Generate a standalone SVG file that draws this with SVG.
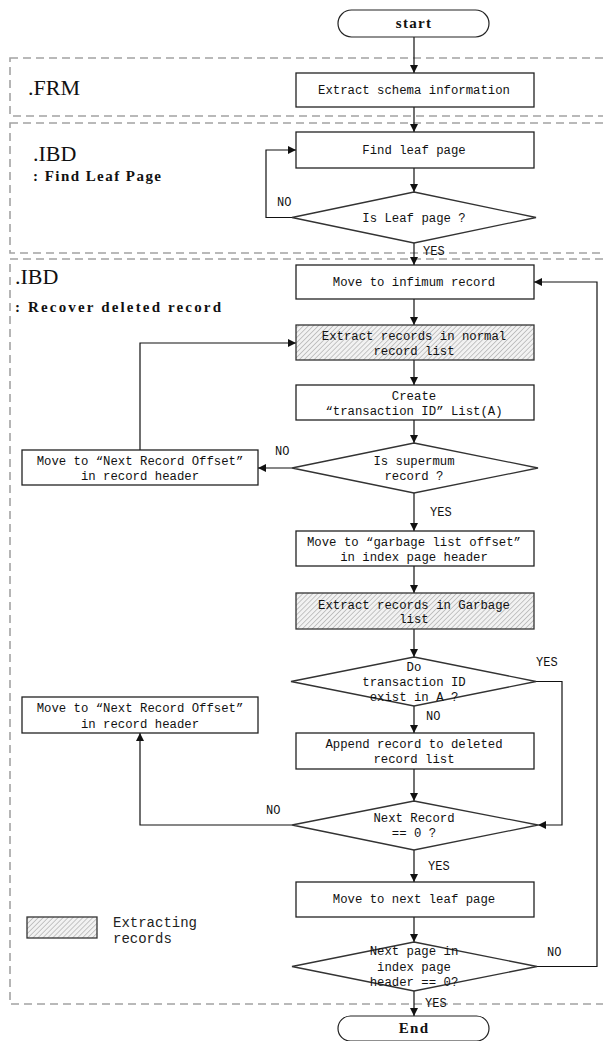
<svg xmlns="http://www.w3.org/2000/svg" width="603" height="1041" viewBox="0 0 603 1041">
<style>
.region{fill:none;stroke:#a3a3a3;stroke-width:1.6;stroke-dasharray:8 5}
.box{fill:#fff;stroke:#222;stroke-width:1.3}
.hbox{fill:url(#hatch);stroke:#333;stroke-width:1.3}
.dia{fill:#fff;stroke:#333;stroke-width:1.3}
.pill{fill:#fff;stroke:#222;stroke-width:1.2}
.t{font-family:"Liberation Mono",monospace;font-size:12.3px;fill:#111;text-anchor:middle}
.lb{font-family:"Liberation Mono",monospace;font-size:12px;fill:#111}
.term{font-family:"Liberation Serif",serif;font-size:15px;font-weight:bold;fill:#111;text-anchor:middle;letter-spacing:1.3px}
.title{font-family:"Liberation Serif",serif;font-size:22px;fill:#111}
.sub{font-family:"Liberation Serif",serif;font-size:15px;font-weight:bold;fill:#111}
.leg{font-family:"Liberation Mono",monospace;font-size:14px;fill:#222}
.conn path{fill:none;stroke:#111;stroke-width:1.2;marker-end:url(#arr)}
.conn path.plain{marker-end:none}
</style>
<defs>
<pattern id="hatch" patternUnits="userSpaceOnUse" width="3.5" height="3.5" patternTransform="rotate(45)">
<rect width="3.5" height="3.5" fill="#f2f2f2"/>
<line x1="0" y1="0" x2="0" y2="3.5" stroke="#8a8a8a" stroke-width="0.9"/>
</pattern>
<marker id="arr" markerUnits="userSpaceOnUse" markerWidth="9" markerHeight="8" refX="8" refY="4" orient="auto">
<path d="M0,0 L8,4 L0,8 z" fill="#111"/>
</marker>
</defs>

<g id="regions">
<rect class="region" x="10" y="58" width="620" height="58"/>
<rect class="region" x="10" y="123" width="620" height="130"/>
<rect class="region" x="10" y="259" width="620" height="745"/>
<text class="title" x="28" y="95">.FRM</text>
<text class="title" x="33" y="161">.IBD</text>
<text class="sub" x="33" y="181" textLength="128" lengthAdjust="spacing">: Find Leaf Page</text>
<text class="title" x="15" y="284">.IBD</text>
<text class="sub" x="15" y="312" textLength="206" lengthAdjust="spacing">: Recover deleted record</text>
</g>

<g class="conn" id="connectors">
<path d="M414,37 V73"/>
<path d="M414,107 V132"/>
<path d="M414,168 V192"/>
<path d="M292,217.5 H266 V150 H296"/>
<path d="M414,243 V265"/>
<path d="M414,299 V325"/>
<path d="M414,360 V385"/>
<path d="M414,420 V443"/>
<path d="M292,468 H258"/>
<path d="M140,450 V343 H296"/>
<path d="M414,493 V531"/>
<path d="M414,566 V593"/>
<path d="M414,629 V657"/>
<path d="M414,706 V733"/>
<path d="M536,681.5 H562 V825 H538"/>
<path d="M414,769 V801"/>
<path d="M292,825 H140 V733"/>
<path d="M414,850 V882"/>
<path d="M414,917 V942"/>
<path d="M537,966.5 H597 V282 H534"/>
<path d="M414,991 V1016"/>
<text class="lb" x="277" y="206">NO</text>
<text class="lb" x="423" y="255">YES</text>
<text class="lb" x="275" y="455">NO</text>
<text class="lb" x="430" y="516">YES</text>
<text class="lb" x="536" y="666">YES</text>
<text class="lb" x="426" y="720">NO</text>
<text class="lb" x="266" y="814">NO</text>
<text class="lb" x="428" y="870">YES</text>
<text class="lb" x="547" y="956">NO</text>
<text class="lb" x="425" y="1007">YES</text>
</g>

<g id="start">
<rect class="pill" x="338" y="10" width="151" height="27" rx="13.5"/>
<text class="term" x="414" y="28">start</text>
</g>
<g id="extract-schema">
<rect class="box" x="296" y="73" width="238" height="34"/>
<text class="t" x="414" y="94">Extract schema information</text>
</g>
<g id="find-leaf">
<rect class="box" x="296" y="132" width="238" height="36"/>
<text class="t" x="414" y="154">Find leaf page</text>
</g>
<g id="is-leaf">
<polygon class="dia" points="414,192 536,217.5 414,243 292,217.5"/>
<text class="t" x="414" y="222">Is Leaf page ?</text>
</g>
<g id="infimum">
<rect class="box" x="296" y="265" width="238" height="34"/>
<text class="t" x="414" y="286">Move to infimum record</text>
</g>
<g id="extract-normal">
<rect class="hbox" x="296" y="325" width="238" height="35"/>
<text class="t" x="414" y="340">Extract records in normal</text>
<text class="t" x="414" y="355">record list</text>
</g>
<g id="create-list">
<rect class="box" x="296" y="385" width="238" height="35"/>
<text class="t" x="414" y="400">Create</text>
<text class="t" x="414" y="415">“transaction ID” List(A)</text>
</g>
<g id="is-supermum">
<polygon class="dia" points="414,443 538,468 414,493 292,468"/>
<text class="t" x="414" y="465">Is supermum</text>
<text class="t" x="414" y="480">record ?</text>
</g>
<g id="next-offset-1">
<rect class="box" x="22" y="450" width="236" height="35"/>
<text class="t" x="140" y="465">Move to “Next Record Offset”</text>
<text class="t" x="140" y="480">in record header</text>
</g>
<g id="garbage-offset">
<rect class="box" x="296" y="531" width="238" height="35"/>
<text class="t" x="414" y="546">Move to “garbage list offset”</text>
<text class="t" x="414" y="561">in index page header</text>
</g>
<g id="extract-garbage">
<rect class="hbox" x="296" y="593" width="238" height="36"/>
<text class="t" x="414" y="609">Extract records in Garbage</text>
<text class="t" x="414" y="623">list</text>
</g>
<g id="exist-in-a">
<polygon class="dia" points="414,657 536,681.5 414,706 291,681.5"/>
<text class="t" x="414" y="671">Do</text>
<text class="t" x="414" y="686">transaction ID</text>
<text class="t" x="414" y="701">exist in A ?</text>
</g>
<g id="next-offset-2">
<rect class="box" x="22" y="697" width="236" height="36"/>
<text class="t" x="140" y="712">Move to “Next Record Offset”</text>
<text class="t" x="140" y="728">in record header</text>
</g>
<g id="append">
<rect class="box" x="296" y="733" width="238" height="36"/>
<text class="t" x="414" y="748">Append record to deleted</text>
<text class="t" x="414" y="763">record list</text>
</g>
<g id="next-record-zero">
<polygon class="dia" points="414,801 538,825 414,850 292,825"/>
<text class="t" x="414" y="822">Next Record</text>
<text class="t" x="414" y="837">== 0 ?</text>
</g>
<g id="next-leaf">
<rect class="box" x="296" y="882" width="238" height="35"/>
<text class="t" x="414" y="903">Move to next leaf page</text>
</g>
<g id="next-page-zero">
<polygon class="dia" points="414,942 537,966.5 414,991 292,966.5"/>
<text class="t" x="414" y="955">Next page in</text>
<text class="t" x="414" y="971">index page</text>
<text class="t" x="414" y="986">header == 0?</text>
</g>
<g id="end">
<rect class="pill" x="338" y="1016" width="151" height="25" rx="12.5"/>
<text class="term" x="414" y="1033">End</text>
</g>
<g id="legend">
<rect class="hbox" x="27" y="917" width="70" height="21"/>
<text class="leg" x="113" y="927">Extracting</text>
<text class="leg" x="113" y="943">records</text>
</g>
</svg>
